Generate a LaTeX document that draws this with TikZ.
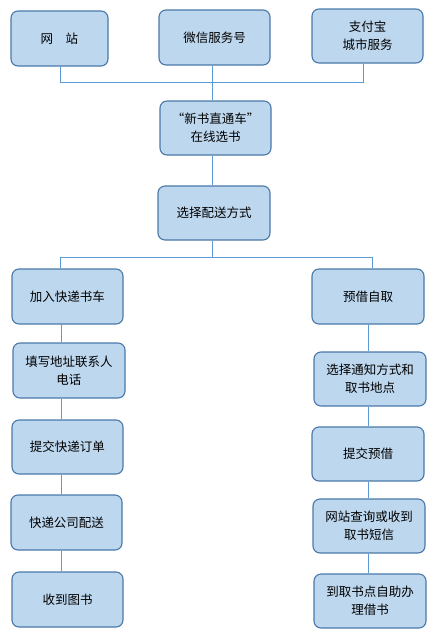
\documentclass[tikz,border=0pt]{standalone}
\usepackage{fontspec}
\setmainfont{Noto Sans CJK SC}
\definecolor{boxfill}{HTML}{BDD7EE}
\definecolor{boxline}{HTML}{4A78A8}
\definecolor{conn}{HTML}{5B9BD5}
\begin{document}
\begin{tikzpicture}[x=1pt,y=-1pt,
  box/.style={draw=boxline, line width=1.1pt, fill=boxfill, rounded corners=7pt,
    minimum width=111pt, minimum height=54pt, align=center, inner sep=2pt,
    font=\fontsize{12.5}{18}\selectfont, text=black},
  link/.style={draw=conn, line width=1pt}]
\useasboundingbox (0,0) rectangle (436,641);
\node[box, minimum width=97pt, minimum height=55pt] (w) at (59.5,38.5) {网　站};
\node[box, minimum height=55pt] (wx) at (214.5,37.5) {微信服务号};
\node[box] (zfb) at (367.5,36) {支付宝\\城市服务};
\node[box] (xs) at (215.5,128) {“新书直通车”\\在线选书};
\node[box, minimum width=112pt] (ps) at (214,213) {选择配送方式};
\node[box, minimum height=55pt] (jr) at (67.5,296.5) {加入快递书车};
\node[box, minimum width=112pt, minimum height=55pt] (yj) at (368,296.5) {预借自取};
\node[box, minimum width=112pt, minimum height=55pt] (tx) at (69,370.5) {填写地址联系人\\电话};
\node[box] (tj) at (67.5,447) {提交快递订单};
\node[box, minimum height=55pt] (kd) at (66.5,522.5) {快递公司配送};
\node[box, minimum height=55pt] (sd) at (67.5,599.5) {收到图书};
\node[box, minimum width=112pt] (xz) at (370,379) {选择通知方式和\\取书地点};
\node[box, minimum width=112pt] (tjy) at (368,454) {提交预借};
\node[box, minimum width=112pt] (wz) at (369,526) {网站查询或收到\\取书短信};
\node[box, minimum width=112pt] (dq) at (370,601) {到取书点自助办\\理借书};
\coordinate (t1) at (60,82);
\coordinate (tm) at (212,82);
\coordinate (t3) at (363,82);
\coordinate (b1) at (60,257);
\coordinate (bm) at (212,257);
\coordinate (b3) at (372,257);
\coordinate (lx) at (61.5,0);
\coordinate (rx) at (368,0);
\begin{scope}[on background layer/.style={}]
\draw[link] (w.south -| t1) -- (t1) -- (t3) -- (zfb.south -| t3);
\draw[link] (wx.south -| tm) -- (xs.north -| tm);
\draw[link] (xs.south -| tm) -- (ps.north -| tm);
\draw[link] (ps.south -| bm) -- (bm);
\draw[link] (b1) -- (b3);
\draw[link] (b1) -- (jr.north -| b1);
\draw[link] (b3) -- (yj.north -| b3);
\draw[link] (jr.south -| lx) -- (tx.north -| lx);
\draw[link] (tx.south -| lx) -- (tj.north -| lx);
\draw[link] (tj.south -| lx) -- (kd.north -| lx);
\draw[link] (kd.south -| lx) -- (sd.north -| lx);
\draw[link] (yj.south -| rx) -- (xz.north -| rx);
\draw[link] (xz.south -| rx) -- (tjy.north -| rx);
\draw[link] (tjy.south -| rx) -- (wz.north -| rx);
\draw[link] (wz.south -| rx) -- (dq.north -| rx);
\end{scope}
\end{tikzpicture}
\end{document}
